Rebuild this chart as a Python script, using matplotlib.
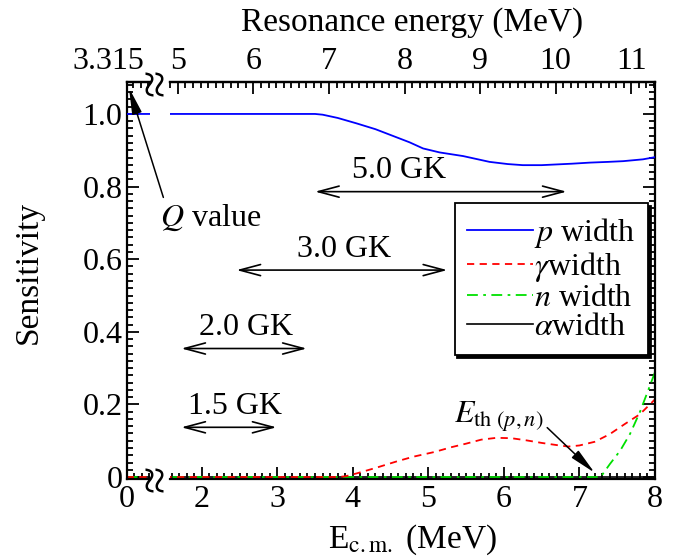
import matplotlib
matplotlib.use('Agg')
import matplotlib.pyplot as plt
from matplotlib.ticker import MultipleLocator, FixedLocator
from matplotlib.transforms import ScaledTranslation, blended_transform_factory

plt.rcParams['font.family'] = ['Liberation Serif', 'DejaVu Serif']
plt.rcParams['mathtext.fontset'] = 'stix'

# Q value of the reaction (MeV): resonance energy = Ecm + Q
q_value = 3.315

# sensitivities
e_p = [0.0, 3.5, 3.6, 3.8, 4.05, 4.3, 4.5, 4.75, 4.93, 5.15, 5.46, 5.81, 6.05, 6.25,
       6.5, 6.7, 6.9, 7.14, 7.38, 7.58, 7.84, 8.0]
s_p = [1.0, 1.0, 0.998, 0.989, 0.974, 0.958, 0.942, 0.922, 0.905, 0.894, 0.884, 0.868,
       0.862, 0.859, 0.859, 0.861, 0.863, 0.866, 0.868, 0.870, 0.875, 0.881]

e_g = [0.0, 3.8, 3.9, 4.05, 4.3, 4.58, 4.8, 5.08, 5.3, 5.5, 5.7, 5.9, 6.1, 6.3, 6.5,
       6.7, 6.85, 7.0, 7.2, 7.4, 7.6, 7.8, 8.0]
s_g = [0.0, 0.0, 0.002, 0.010, 0.025, 0.043, 0.056, 0.069, 0.082, 0.092, 0.103, 0.108,
       0.107, 0.101, 0.094, 0.088, 0.084, 0.087, 0.097, 0.118, 0.146, 0.173, 0.214]

e_n = [0.0, 7.28, 7.4, 7.54, 7.67, 7.8, 7.91, 8.0]
s_n = [0.0, 0.0, 0.035, 0.073, 0.119, 0.179, 0.239, 0.289]

e_a = [0.0, 8.0]
s_a = [0.0, 0.0]

# Gamow windows
gk_labels = ['5.0 GK', '3.0 GK', '2.0 GK', '1.5 GK']
gk_lo = [3.50, 2.46, 1.73, 1.73]
gk_hi = [6.83, 5.25, 3.39, 2.99]
gk_y = [0.786, 0.570, 0.354, 0.137]

y_ticks = [0, 0.2, 0.4, 0.6, 0.8, 1.0]
y_ticklabels = ['0', '0.2', '0.4', '0.6', '0.8', '1.0']
e_threshold = 7.2

fs = 23
W, H = 687, 557
fig = plt.figure(figsize=(W / 100, H / 100), dpi=100)

bot, top = 478.5, 82
ax_l = fig.add_axes([126.7 / W, (H - bot) / H, 23.3 / W, (bot - top) / H])
ax_r = fig.add_axes([170 / W, (H - bot) / H, 485 / W, (bot - top) / H], sharey=ax_l)
ax_r.patch.set_visible(False)

for ax in (ax_l, ax_r):
    ax.plot(e_a, s_a, color='black', lw=1.2, label=r'$\alpha$width', zorder=1)
    ax.plot(e_p, s_p, color='blue', lw=1.3, label=r'$p$ width', zorder=3)
    ax.plot(e_n, s_n, color='#00e000', lw=1.3, ls=(0, (6, 3, 1.5, 3)), label=r'$n$ width', zorder=2)
    ax.plot(e_g, s_g, color='red', lw=1.3, ls=(0, (4, 3)), label=r'$\gamma$width', zorder=2)
    for s in ax.spines.values():
        s.set_linewidth(1.6)
    ax.tick_params(which='both', direction='in', width=1.3, labelsize=fs, top=False)
    ax.tick_params(which='major', length=8.5)
    ax.tick_params(which='minor', length=4.5)
    ax.tick_params(axis='x', pad=5)
    ax.xaxis.set_minor_locator(MultipleLocator(0.1))

ax_l.set_xlim(0, 0.31)
ax_r.set_xlim(1.58, 8)
ax_l.set_ylim(-0.004, 1.088)

ax_l.spines['right'].set_visible(False)
ax_r.spines['left'].set_visible(False)
ax_l.tick_params(axis='y', which='both', right=False, pad=3)
ax_r.tick_params(axis='y', which='both', left=False, labelleft=False, right=True)
ax_l.xaxis.set_major_locator(FixedLocator([0]))
ax_r.xaxis.set_major_locator(MultipleLocator(1))
ax_l.set_yticks(y_ticks)
ax_l.set_yticklabels(y_ticklabels)
ax_l.yaxis.set_minor_locator(MultipleLocator(0.02))

# top axis: resonance energy
sec_l = ax_l.secondary_xaxis('top', functions=(lambda e: e + q_value, lambda r: r - q_value))
sec_r = ax_r.secondary_xaxis('top', functions=(lambda e: e + q_value, lambda r: r - q_value))
for sec in (sec_l, sec_r):
    sec.spines['top'].set_linewidth(1.6)
    sec.tick_params(which='both', direction='in', width=1.3, labelsize=fs, pad=4)
    sec.tick_params(which='major', length=8.5)
    sec.tick_params(which='minor', length=4.5)
    sec.xaxis.set_minor_locator(MultipleLocator(0.1))
sec_l.set_xticks([q_value])
sec_l.set_xticklabels([''])
sec_r.set_xticks([5, 6, 7, 8, 9, 10, 11])
ax_l.text(0, 1.0, '3.315', fontsize=fs, ha='center', va='bottom',
          transform=blended_transform_factory(ax_l.transData, ax_l.transAxes)
          + ScaledTranslation(-0.18, 0.06, fig.dpi_scale_trans))

sec_r.set_xlabel('Resonance energy (MeV)', fontsize=24, labelpad=12)
ax_r.set_xlabel(r'E$_{\rm c.m.}$ (MeV)', fontsize=24)
ax_r.xaxis.set_label_coords(0.5, -0.112)
ax_l.set_ylabel('Sensitivity', fontsize=24)
ax_l.yaxis.set_label_coords(-3.55, 0.52)

# axis break marks
for yp in (bot, top):
    fig.text(159 / W, (H - yp) / H, '\u2248', rotation=90, fontsize=36,
             ha='center', va='center', family='Liberation Serif')

# Gamow window arrows
for lab, lo, hi, yv in zip(gk_labels, gk_lo, gk_hi, gk_y):
    ax_r.annotate('', xy=(lo, yv), xytext=(hi, yv),
                  arrowprops=dict(arrowstyle='<->,head_length=0.75,head_width=0.2',
                                  mutation_scale=20, lw=1.2, color='black',
                                  shrinkA=0, shrinkB=0))
text_x = [4.61, 3.88, 2.59, 2.44]
for lab, tx, yv in zip(gk_labels, text_x, gk_y):
    ax_r.text(tx, yv + 0.018, lab, fontsize=fs, ha='center', va='bottom')

# Q value
ax_l.annotate(r'$Q$ value', xy=(0.03, 1.072), xytext=(160, H - 218),
              textcoords='figure pixels', fontsize=fs, ha='left', va='center',
              arrowprops=dict(arrowstyle='-|>,head_length=0.8,head_width=0.15',
                              mutation_scale=20, lw=1.1, color='black',
                              relpos=(0.05, 1.0), shrinkA=2, shrinkB=0))

# threshold
ax_r.annotate(r'$E_{\mathrm{th}\ (p,n)}$', xy=(e_threshold, 0.012), xytext=(5.93, 0.165),
              fontsize=fs, ha='center', va='center',
              arrowprops=dict(arrowstyle='-|>,head_length=0.8,head_width=0.15',
                              mutation_scale=20, lw=1.1, color='black',
                              relpos=(1.0, 0.3), shrinkA=1, shrinkB=0))

handles, labels = ax_r.get_legend_handles_labels()
order = [1, 3, 2, 0]
leg = ax_r.legend([handles[i] for i in order], [labels[i] for i in order],
                  loc='upper right', bbox_to_anchor=(0.986, 0.695), borderaxespad=0,
                  fontsize=fs, frameon=True, fancybox=False,
                  shadow={'color': 'black', 'alpha': 1.0},
                  handlelength=2.05, handletextpad=0.05, labelspacing=0.0,
                  borderpad=0.4)
leg.get_frame().set_edgecolor('black')
leg.get_frame().set_linewidth(1.3)

fig.savefig('out.png', dpi=100)
